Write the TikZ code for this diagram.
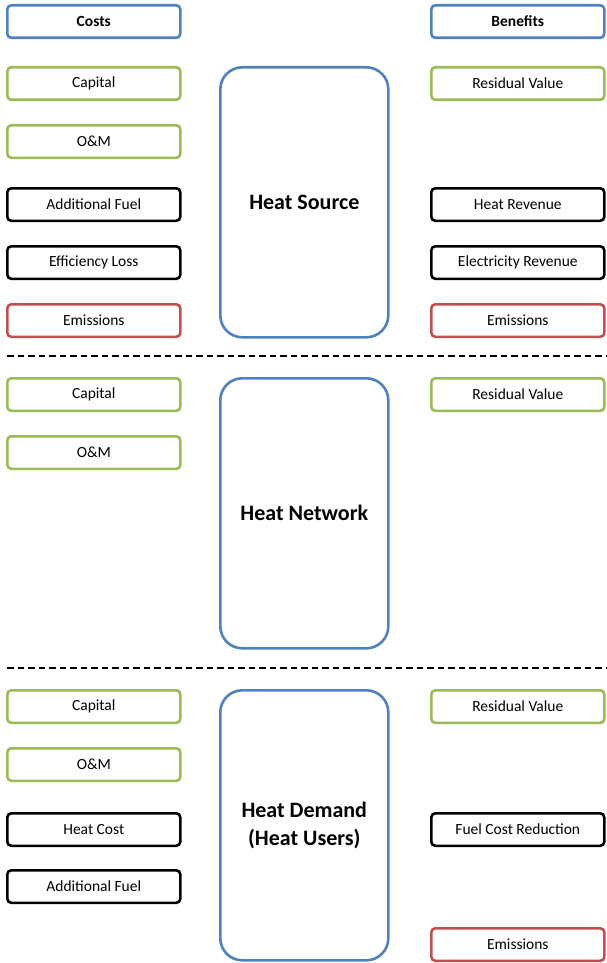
\documentclass[tikz,border=0pt]{standalone}
\usepackage{fontspec}
\setmainfont{Carlito}
\definecolor{cblue}{RGB}{79,129,189}
\definecolor{cgreen}{RGB}{155,187,89}
\definecolor{cred}{RGB}{192,80,77}
\begin{document}
\begin{tikzpicture}[x=1pt,y=-1pt,
  sbox/.style={draw,line width=2.6pt,rounded corners=4pt,minimum width=173pt,minimum height=32.5pt,inner sep=0pt,font=\fontsize{15.5pt}{18pt}\selectfont,anchor=north west},
  bbox/.style={draw=cblue,line width=2.6pt,rounded corners=22pt,minimum width=168pt,minimum height=270pt,inner sep=0pt,anchor=north west,align=center,font=\fontsize{22pt}{28pt}\selectfont\bfseries},
  bl/.style={sbox,draw=cblue,font=\fontsize{15.5pt}{18pt}\selectfont\bfseries},
  gr/.style={sbox,draw=cgreen},
  bk/.style={sbox,draw=black},
  rd/.style={sbox,draw=cred},
  sep/.style={line width=1.6pt,dash pattern=on 6.5pt off 4pt}]
\useasboundingbox (0,0) rectangle (606,963);
% headers
\node[bl] (costs) at (6,4) {Costs};
\node[bl] (benefits) at (430,4) {Benefits};
% section 1
\node[gr] (c1cap) at (6,66) {Capital};
\node[gr] (c1om) at (6,124) {O\&M};
\node[bk] (c1fuel) at (6,187) {Additional Fuel};
\node[bk] (c1eff) at (6,245) {Efficiency Loss};
\node[rd] (c1em) at (6,303) {Emissions};
\node[gr] (b1res) at (430,66) {Residual Value};
\node[bk] (b1heat) at (430,187) {Heat Revenue};
\node[bk] (b1elec) at (430,245) {Electricity Revenue};
\node[rd] (b1em) at (430,303) {Emissions};
\node[bbox] (src) at (219,66) {Heat Source};
\coordinate (d1l) at (7,356);
\coordinate (d1r) at (606,356);
\draw[sep] (d1l) -- (d1r);
% section 2
\node[gr] (c2cap) at (6,377) {Capital};
\node[gr] (c2om) at (6,435) {O\&M};
\node[gr] (b2res) at (430,377) {Residual Value};
\node[bbox] (net) at (219,377) {Heat Network};
\coordinate (d2l) at (7,668);
\coordinate (d2r) at (606,668);
\draw[sep] (d2l) -- (d2r);
% section 3
\node[gr] (c3cap) at (6,689) {Capital};
\node[gr] (c3om) at (6,747) {O\&M};
\node[bk] (c3cost) at (6,812) {Heat Cost};
\node[bk] (c3fuel) at (6,869) {Additional Fuel};
\node[gr] (b3res) at (430,689) {Residual Value};
\node[bk] (b3fuel) at (430,812) {Fuel Cost Reduction};
\node[rd] (b3em) at (430,927) {Emissions};
\node[bbox] (dem) at (219,689) {Heat Demand\\(Heat Users)};
\end{tikzpicture}
\end{document}
